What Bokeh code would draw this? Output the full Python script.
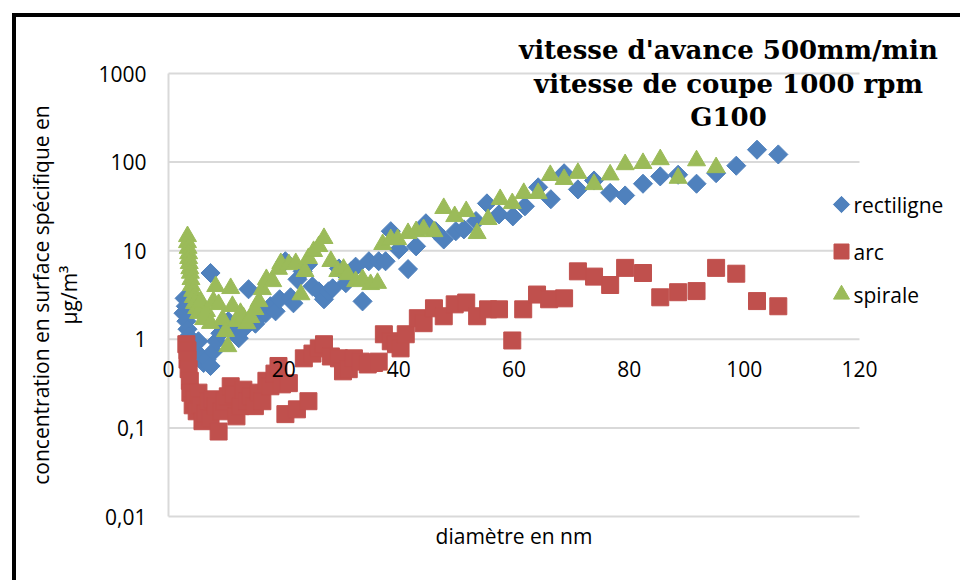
from bokeh.plotting import figure
from bokeh.models import (Range1d, Label, LabelSet, ColumnDataSource, BoxAnnotation)
from bokeh.core.properties import value
from bokeh.embed import file_html
from bokeh.resources import INLINE
import math

# ---------------- data ----------------
series_names = ["rectiligne", "arc", "spirale"]

rect_x = [2.6, 2.8, 3.0, 3.1, 3.3, 3.5, 3.8, 4.2, 4.7, 5.2, 5.6, 6.1, 6.6, 7.3, 7.3,
          7.8, 8.3, 9.0, 9.7, 10.4, 11.3, 12.2, 13.0, 13.9, 14.3, 15.1, 16.0, 16.9,
          17.7, 18.6, 19.3, 20.3, 21.2, 21.7, 22.4, 23.3, 24.2, 25.0, 26.1, 27.0,
          27.8, 28.5, 29.6, 30.8, 31.7, 32.5, 33.7, 34.8, 36.5, 37.7, 38.6, 40.0,
          41.6, 43.0, 44.7, 46.4, 47.8, 49.9, 51.3, 53.4, 55.3, 57.4, 59.8, 61.9,
          64.2, 66.4, 68.7, 71.1, 73.9, 76.7, 79.3, 82.4, 85.4, 88.5, 91.7, 95.1,
          98.6, 102.2, 105.9]
rect_y = [1.97, 2.9, 2.36, 1.6, 1.3, 1.08, 0.95, 0.83, 0.73, 0.95, 0.64, 0.54, 0.59,
          5.6, 0.5, 0.73, 0.95, 1.17, 1.4, 1.6, 1.23, 1.03, 1.3, 3.67, 1.6, 1.5, 1.82,
          1.97, 2.36, 2.07, 2.83, 7.6, 2.98, 2.55, 4.75, 5.85, 7.0, 3.96, 3.48, 2.83,
          3.48, 3.76, 6.3, 4.3, 5.85, 6.6, 2.68, 7.6, 7.6, 7.6, 16.6, 10.3, 6.2, 11.2,
          20.4, 16.6, 13.4, 16.6, 17.4, 21.6, 34.2, 25.7, 24.4, 31.7, 51.9, 38.1,
          74.8, 49.2, 62, 45, 42, 57, 69, 72, 57, 75, 91, 138, 122]

arc_x = [3.1, 3.3, 3.3, 3.5, 3.7, 3.8, 4.2, 4.5, 4.9, 5.2, 5.6, 5.9, 6.4, 7.0, 7.3,
         7.7, 8.2, 8.7, 9.2, 9.7, 10.3, 10.8, 11.3, 11.8, 12.5, 13.0, 13.7, 14.3,
         15.0, 15.7, 16.3, 17.0, 17.7, 18.4, 19.1, 19.7, 20.3, 20.9, 22.3, 23.5,
         24.3, 25.0, 26.1, 27.0, 28.2, 29.6, 30.3, 31.3, 32.2, 33.4, 34.6, 35.7,
         36.5, 37.4, 38.6, 39.5, 40.3, 41.2, 43.3, 44.3, 46.1, 47.8, 49.7, 51.7,
         53.6, 55.5, 57.4, 59.7, 61.6, 64.0, 66.1, 68.7, 71.1, 73.9, 76.7, 79.3,
         82.4, 85.4, 88.5, 91.7, 95.1, 98.6, 102.2, 105.9]
arc_y = [0.88, 0.75, 0.59, 0.46, 0.34, 0.25, 0.18, 0.21, 0.154, 0.25, 0.18, 0.119,
         0.146, 0.2, 0.128, 0.21, 0.175, 0.091, 0.154, 0.2, 0.227, 0.295, 0.24,
         0.135, 0.176, 0.27, 0.2, 0.227, 0.176, 0.25, 0.2, 0.34, 0.295, 0.41, 0.5,
         0.31, 0.143, 0.32, 0.162, 0.61, 0.2, 0.69, 0.79, 0.88, 0.64, 0.61, 0.435,
         0.46, 0.61, 0.56, 0.52, 0.54, 0.56, 1.14, 0.95, 0.88, 0.79, 1.14, 1.73,
         1.52, 2.24, 1.82, 2.48, 2.6, 1.82, 2.18, 2.18, 0.97, 2.18, 3.2, 2.83, 2.9,
         5.85, 5.1, 4.1, 6.4, 5.6, 2.98, 3.4, 3.5, 6.4, 5.5, 2.7, 2.36]

spir_x = [3.3, 3.3, 3.4, 3.5, 3.5, 3.6, 3.7, 3.8, 3.9, 4.0, 4.2, 4.3, 4.5, 4.9, 5.2,
          5.6, 6.1, 6.6, 7.3, 7.8, 8.2, 8.7, 9.4, 9.9, 10.3, 10.8, 11.1, 11.8, 12.5,
          13.0, 13.6, 14.3, 15.0, 15.7, 16.3, 17.0, 18.1, 19.1, 19.5, 20.9, 22.1,
          23.0, 23.7, 24.3, 25.2, 26.1, 27.0, 28.2, 29.4, 30.4, 31.1, 32.5, 33.7,
          35.1, 36.3, 37.2, 38.6, 39.8, 41.6, 43.0, 44.3, 46.1, 47.8, 49.7, 51.7,
          53.6, 55.5, 57.6, 59.7, 61.7, 64.2, 66.3, 68.7, 71.1, 73.9, 76.7, 79.3,
          82.4, 85.4, 88.5, 91.7, 95.1]
spir_y = [14.5, 12.4, 10.7, 9.3, 8.2, 7.2, 6.3, 5.6, 4.75, 4.06, 3.5, 2.98, 2.55,
          2.24, 1.97, 2.68, 1.68, 2.07, 1.52, 2.68, 3.96, 2.48, 1.68, 1.23, 0.83,
          3.76, 2.36, 1.6, 1.97, 1.77, 1.51, 1.77, 2.18, 2.68, 3.66, 4.75, 4.5, 6.2,
          7.2, 7.0, 7.2, 3.2, 5.85, 8.2, 9.85, 11.2, 13.8, 7.6, 5.85, 6.2, 5.4, 4.5,
          4.75, 4.17, 4.3, 11.8, 13.4, 13.4, 15.7, 16.5, 17.4, 16.5, 30.1, 24.4,
          27.8, 15.7, 22.6, 38.0, 34.2, 44.5, 44.5, 71, 64, 75, 56, 72, 94, 97, 107,
          66, 104, 87]

x_ticks = [0, 20, 40, 60, 80, 100, 120]
x_tick_labels = ["0", "20", "40", "60", "80", "100", "120"]
y_ticks = [0.01, 0.1, 1, 10, 100, 1000]
y_tick_labels = ["0,01", "0,1", "1", "10", "100", "1000"]
x_axis_cross = 1

title_lines = ["vitesse d'avance 500mm/min", "vitesse de coupe 1000 rpm", "G100"]
x_label = "diamètre en nm"
y_label_lines = ["concentration en surface spécifique en", "µg/m³"]

# ---------------- layout (canvas pixels) ----------------
W, H = 960, 580
PX0, PX1 = 168, 859        # canvas px of first / last x tick
PY_TOP, PY_BOT = 73, 516   # canvas px of top / bottom y tick
xmin, xmax = x_ticks[0], x_ticks[-1]
lmin, lmax = math.log10(y_ticks[0]), math.log10(y_ticks[-1])
xs = (PX1 - PX0) / (xmax - xmin)
dec = (PY_BOT - PY_TOP) / (lmax - lmin)


def X(cx):
    return xmin + (cx - PX0) / xs


def Y(cy):
    return 10 ** (lmax - (cy - PY_TOP) / dec)


BLUE, RED, GREEN = "#4F81BD", "#C0504D", "#9BBB59"
GRID = "#D9D9D9"
FONT = value("Open Sans")
FS = value("21px")

p = figure(width=W, height=H, output_backend="svg", toolbar_location=None,
           y_axis_type="log", x_axis_location=None, y_axis_location=None,
           x_range=Range1d(X(0), X(W)), y_range=Range1d(Y(H), Y(0)),
           min_border=0)
p.outline_line_color = None
p.background_fill_color = "white"
p.border_fill_color = "white"
for g in p.grid:
    g.visible = False

# chart-object border (left and top edges visible)
p.add_layout(BoxAnnotation(left=X(11.5), right=X(15.5), top=Y(12.5), fill_color="black",
                           fill_alpha=1, line_color=None))
p.add_layout(BoxAnnotation(left=X(11.5), top=Y(12.5), bottom=Y(16.5), fill_color="black",
                           fill_alpha=1, line_color=None))

# horizontal gridlines (x from 0 to 120) and vertical axis line at x = 0
p.segment(x0=[xmin] * len(y_ticks), y0=y_ticks, x1=[xmax] * len(y_ticks), y1=y_ticks,
          line_color=GRID, line_width=2)
p.segment(x0=[xmin], y0=[y_ticks[0]], x1=[xmin], y1=[y_ticks[-1]], line_color=GRID,
          line_width=2)

# tick labels
yt_src = ColumnDataSource(dict(x=[xmin] * len(y_ticks), y=y_ticks, text=y_tick_labels))
p.add_layout(LabelSet(x="x", y="y", text="text", source=yt_src, text_align="right",
                      text_baseline="middle", x_offset=-22, text_font=FONT,
                      text_font_size=FS, text_color="black"))
xt_src = ColumnDataSource(dict(x=x_ticks, y=[x_axis_cross] * len(x_ticks),
                               text=x_tick_labels))
p.add_layout(LabelSet(x="x", y="y", text="text", source=xt_src, text_align="center",
                      text_baseline="middle", y_offset=-30, text_font=FONT,
                      text_font_size=FS, text_color="black"))

# axis titles
p.add_layout(Label(x=(xmin + xmax) / 2, y=Y(535), text=x_label, text_align="center",
                   text_baseline="middle", text_font="Open Sans",
                   text_font_size="21px", text_color="black"))
ymid = 10 ** ((lmin + lmax) / 2)
for txt, cx in zip(y_label_lines, [40, 68]):
    p.add_layout(Label(x=X(cx), y=ymid, text=txt, angle=math.pi / 2,
                       text_align="center", text_baseline="middle",
                       text_font="Open Sans", text_font_size="21px",
                       text_color="black"))

# series
specs = [dict(marker="square", angle=math.pi / 4, size=13.5, color=BLUE),
         dict(marker="square", angle=0, size=17, color=RED),
         dict(marker="triangle", angle=0, size=18, color=GREEN)]
for xs_, ys_, sp in zip([rect_x, arc_x, spir_x], [rect_y, arc_y, spir_y], specs):
    p.scatter(xs_, ys_, marker=sp["marker"], angle=sp["angle"], size=sp["size"],
              fill_color=sp["color"], line_color=sp["color"])

# legend (white box, markers, labels)
p.quad(left=[X(833)], right=[X(W)], top=[Y(186)], bottom=[Y(314)],
       fill_color="white", line_color=None)
leg_rows = [204, 251, 294]
leg_sizes = [11.5, 15, 16]
for row, sp, sz in zip(leg_rows, specs, leg_sizes):
    p.scatter([X(841)], [Y(row)], marker=sp["marker"], angle=sp["angle"], size=sz,
              fill_color=sp["color"], line_color=sp["color"])
leg_src = ColumnDataSource(dict(x=[X(853)] * 3, y=[Y(r) for r in leg_rows],
                                text=series_names))
p.add_layout(LabelSet(x="x", y="y", text="text", source=leg_src, text_align="left",
                      text_baseline="middle", text_font=FONT, text_font_size=FS,
                      text_color="black"))

# chart title
for txt, cy in zip(title_lines, [49, 83, 116]):
    p.add_layout(Label(x=X(728), y=Y(cy), text=txt, text_align="center",
                       text_baseline="middle", text_font="DejaVu Serif",
                       text_font_style="bold", text_font_size="26px",
                       text_color="black"))

open("out.html", "w").write(file_html(p, INLINE))
